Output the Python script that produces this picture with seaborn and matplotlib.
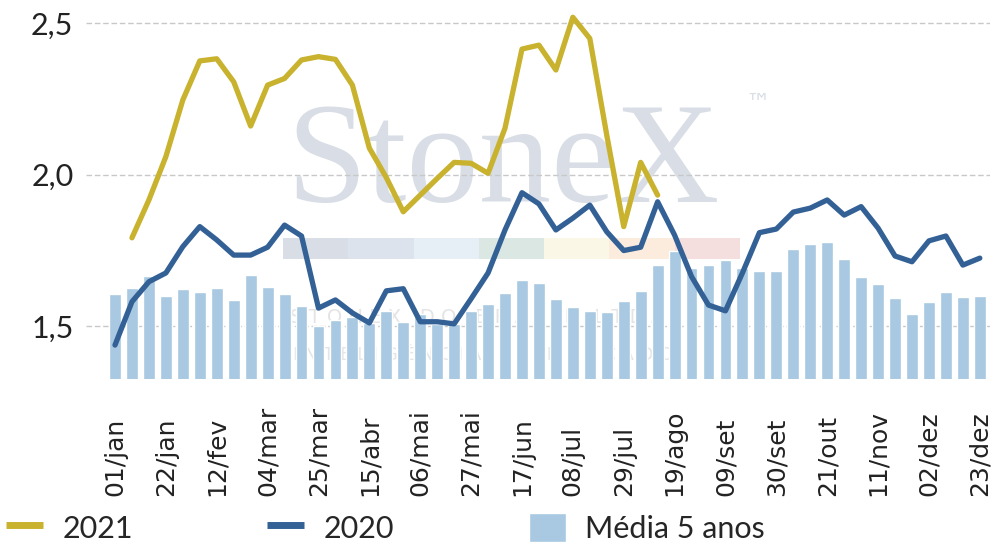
import numpy as np
import pandas as pd
import matplotlib
matplotlib.use('Agg')
import matplotlib.pyplot as plt
import seaborn as sns
from matplotlib.lines import Line2D
from matplotlib.patches import Patch, Rectangle

# Dados (semanas 01/jan a 23/dez)
semanas = list(range(52))
tick_labels = ['01/jan', '22/jan', '12/fev', '04/mar', '25/mar', '15/abr', '06/mai',
               '27/mai', '17/jun', '08/jul', '29/jul', '19/ago', '09/set', '30/set',
               '21/out', '11/nov', '02/dez', '23/dez']

media_5_anos = [1.606, 1.625, 1.665, 1.599, 1.622, 1.612, 1.625, 1.586, 1.668, 1.629,
                1.606, 1.566, 1.500, 1.520, 1.531, 1.510, 1.550, 1.513, 1.540, 1.505,
                1.505, 1.550, 1.573, 1.609, 1.652, 1.642, 1.590, 1.563, 1.550, 1.546,
                1.583, 1.616, 1.700, 1.748, 1.691, 1.700, 1.718, 1.691, 1.681, 1.681,
                1.754, 1.770, 1.777, 1.721, 1.662, 1.639, 1.592, 1.540, 1.579, 1.612,
                1.596, 1.599]

ano_2020 = [1.437, 1.580, 1.646, 1.675, 1.762, 1.828, 1.784, 1.734, 1.734, 1.760,
            1.833, 1.797, 1.559, 1.586, 1.543, 1.510, 1.616, 1.623, 1.514, 1.514,
            1.507, 1.590, 1.675, 1.817, 1.940, 1.903, 1.817, 1.856, 1.899, 1.811,
            1.749, 1.760, 1.910, 1.800, 1.663, 1.569, 1.550, 1.675, 1.808, 1.820,
            1.876, 1.889, 1.916, 1.866, 1.894, 1.823, 1.731, 1.712, 1.781, 1.797,
            1.701, 1.724]

ano_2021 = [np.nan, 1.791, 1.916, 2.059, 2.246, 2.375, 2.382, 2.306, 2.160, 2.295,
            2.317, 2.378, 2.389, 2.380, 2.295, 2.087, 1.990, 1.877, 1.932, 1.987,
            2.040, 2.037, 2.004, 2.153, 2.414, 2.427, 2.345, 2.519, 2.449, 2.130,
            1.828, 2.040, 1.932] + [np.nan] * 19

cor_2021 = '#c8b22e'
cor_2020 = '#336196'
cor_media = '#a8c9e1'

df = pd.DataFrame({'semana': semanas, 'media': media_5_anos,
                   '2020': ano_2020, '2021': ano_2021})

sns.set_style('white')
plt.rcParams['font.family'] = ['DejaVu Sans']

fig = plt.figure(figsize=(9.95, 5.43), dpi=100)
ax = fig.add_axes([86 / 995, 1 - 379 / 543, (990 - 86) / 995, 379 / 543])
ax.patch.set_alpha(0)

# Marca d'agua StoneX (atras do grafico)
fig.text(286 / 995, 1 - 202 / 543, 'StoneX', family='Liberation Serif', fontsize=104,
         color='#d9dee6', va='baseline', ha='left', zorder=-2)
fig.text(745 / 995, 1 - 111 / 543, '™', fontsize=18, color='#d9dee6',
         va='baseline', ha='left', zorder=-2)
faixa = ['#d9dee6', '#dce3ec', '#e6eef6', '#dbe7e2', '#faf7e6', '#fbecdd', '#f5dede']
larg = (740 - 283) / 7
for i, c in enumerate(faixa):
    fig.add_artist(Rectangle(((283 + i * larg) / 995, 1 - 259 / 543), larg / 995, 21 / 543,
                             transform=fig.transFigure, color=c, zorder=-2, lw=0))
fig.text(290 / 995, 1 - 323 / 543, 'S T O N E X   D O   B R A S I L   L T D A',
         fontsize=14, color='#e4e4e4', va='baseline', ha='left', zorder=-2)
fig.text(293 / 995, 1 - 360 / 543, 'I N T E L I G Ê N C I A   D E   M E R C A D O',
         fontsize=13, color='#e4e4e4', va='baseline', ha='left', zorder=-2)

# Barras e linhas
sns.barplot(data=df, x='semana', y='media', color=cor_media, width=0.7,
            saturation=1, ax=ax, zorder=2)
sns.lineplot(data=df, x='semana', y='2020', color=cor_2020, lw=3.8, ax=ax, zorder=3)
sns.lineplot(data=df, x='semana', y='2021', color=cor_2021, lw=3.8, ax=ax, zorder=4)

ax.set_ylim(1.325, 2.576)
ax.set_xlim(-1.71, 51.6)
ax.set_yticks([1.5, 2.0, 2.5])
ax.set_yticklabels(['1,5', '2,0', '2,5'], family='Lato', fontsize=22, color='#222222')
ax.yaxis.grid(True, color='#c8c8c8', linestyle=(0, (4, 2)), lw=1)
ax.set_axisbelow(True)
ax.tick_params(axis='y', length=0, pad=9)

ax.set_xticks(range(0, 52, 3))
ax.set_xticklabels(tick_labels, fontsize=18, color='#222222')
ax.tick_params(axis='x', length=0, pad=84)
for lab in ax.get_xticklabels():
    lab.set_rotation(90)
    lab.set_rotation_mode('anchor')
    lab.set_ha('left')
    lab.set_va('center')

ax.set_xlabel('')
ax.set_ylabel('')
sns.despine(ax=ax, left=True, bottom=True)

# Legenda
handles = [Line2D([], [], color=cor_2021, lw=5, solid_capstyle='butt'),
           Line2D([], [], color=cor_2020, lw=5, solid_capstyle='butt'),
           Patch(facecolor=cor_media)]
fig.legend(handles, ['2021', '2020', 'Média 5 anos'], loc='lower left',
           bbox_to_anchor=(6 / 995, 0.0), ncol=3, frameon=False,
           borderaxespad=0, borderpad=0,
           prop={'family': 'Lato', 'size': 22}, handlelength=1.2,
           handleheight=1.1, handletextpad=0.65, columnspacing=4.4)

fig.savefig('out.png', dpi=100, facecolor='white')
